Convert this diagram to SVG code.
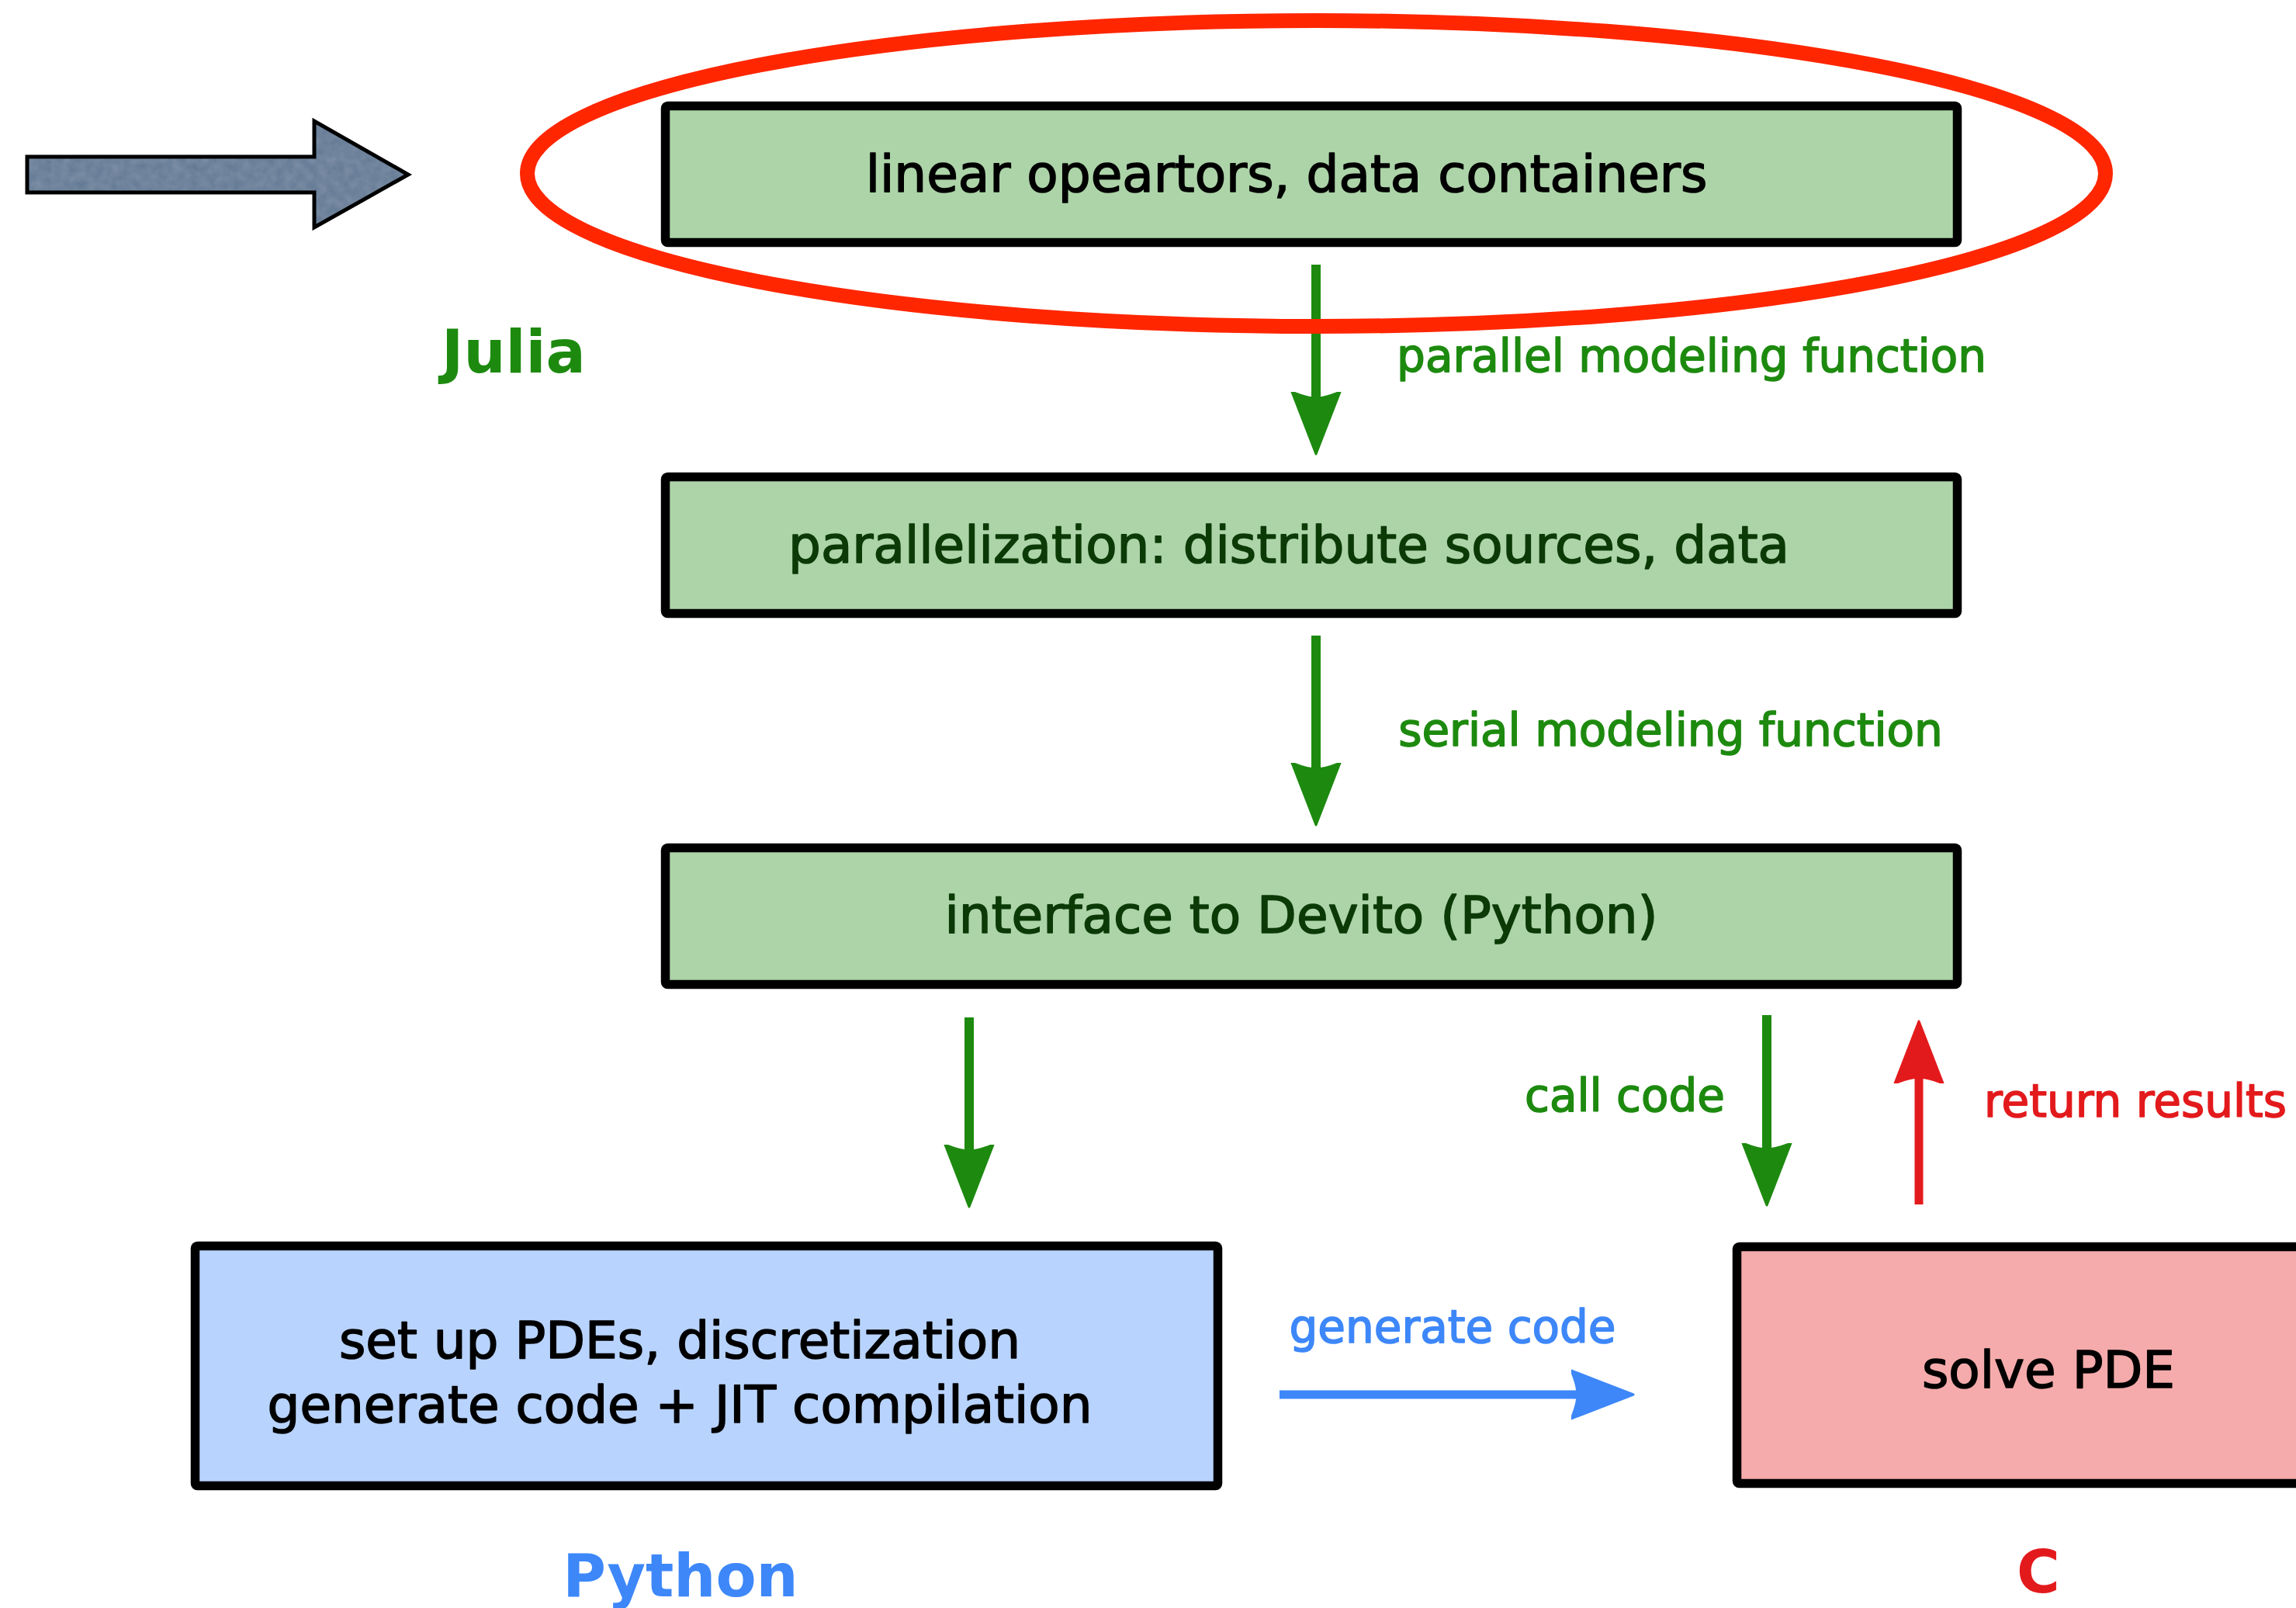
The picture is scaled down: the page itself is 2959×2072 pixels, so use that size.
<svg xmlns="http://www.w3.org/2000/svg" width="2959" height="2072" viewBox="0 0 2959 2072">
  <style>
    .box { stroke: #000; stroke-width: 11.5; stroke-linejoin: round; }
    .julia { fill: #acd4a8; }
    .py { fill: #b8d3fe; }
    .c { fill: #f5abab; }
    text { font-family: "DejaVu Sans", Verdana, sans-serif; text-anchor: middle; stroke-width: 1.6; stroke-linejoin: round; }
    .t { font-size: 66px; }
    .lbl { font-size: 58px; }
    .lang { font-size: 76px; font-weight: bold; stroke-width: 0; }
    .k { fill: #000; stroke: #000; }
    .g { fill: #1d8a0f; stroke: #1d8a0f; }
    .r { fill: #e31a1c; stroke: #e31a1c; }
    .b { fill: #3d87f9; stroke: #3d87f9; }
    .dk { fill: #0c3a07; stroke: #0c3a07; }
  </style>
  <defs>
    <marker id="head-green" markerUnits="userSpaceOnUse" orient="auto" markerWidth="90" markerHeight="80" refX="8" refY="0" viewBox="0 -40 90 80">
      <path d="M0,-31 Q8,-12 8,0 Q8,12 0,31 L80,0 Z" fill="#1d8a0f" stroke="#1d8a0f" stroke-width="3" stroke-linejoin="round"/>
    </marker>
    <marker id="head-red" markerUnits="userSpaceOnUse" orient="auto" markerWidth="90" markerHeight="80" refX="8" refY="0" viewBox="0 -40 90 80">
      <path d="M0,-31 Q8,-12 8,0 Q8,12 0,31 L80,0 Z" fill="#e31a1c" stroke="#e31a1c" stroke-width="3" stroke-linejoin="round"/>
    </marker>
    <marker id="head-blue" markerUnits="userSpaceOnUse" orient="auto" markerWidth="90" markerHeight="80" refX="8" refY="0" viewBox="0 -40 90 80">
      <path d="M0,-31 Q8,-12 8,0 Q8,12 0,31 L80,0 Z" fill="#3d87f9" stroke="#3d87f9" stroke-width="3" stroke-linejoin="round"/>
    </marker>
    <filter id="grain" x="0" y="0" width="1" height="1">
      <feTurbulence type="fractalNoise" baseFrequency="0.09" numOctaves="2" seed="3" result="n"/>
      <feColorMatrix in="n" type="matrix" values="0 0 0 0 0.42  0 0 0 0 0.52  0 0 0 0 0.62  0 0 0 0.3 0" result="tint"/>
      <feComposite in="tint" in2="SourceGraphic" operator="atop"/>
    </filter>
  </defs>

  <rect width="2959" height="2072" fill="#fff"/>

  <!-- pointer arrow at top left -->
  <g id="pointer">
    <polygon points="35,202 405,202 405,156 526,225 405,293 405,248 35,248" fill="#5f7591" filter="url(#grain)"/>
    <polygon points="35,202 405,202 405,156 526,225 405,293 405,248 35,248" fill="none" stroke="#000" stroke-width="5"/>
  </g>

  <!-- Julia layer -->
  <g id="node-operators">
    <rect class="box julia" x="857.5" y="136.5" width="1665" height="176" rx="3"/>
    <text class="t k" x="1658" y="247">linear opeartors, data containers</text>
  </g>
  <g id="node-parallel">
    <rect class="box julia" x="857.5" y="614.5" width="1665" height="176" rx="3"/>
    <text class="t dk" x="1661" y="725">parallelization: distribute sources, data</text>
  </g>
  <g id="node-interface">
    <rect class="box julia" x="857.5" y="1092.5" width="1665" height="176" rx="3"/>
    <text class="t dk" x="1677" y="1202">interface to Devito (Python)</text>
  </g>

  <!-- Python layer -->
  <g id="node-devito">
    <rect class="box py" x="251.5" y="1605.5" width="1318" height="309" rx="3"/>
    <text class="t k" x="876" y="1750">set up PDEs, discretization</text>
    <text class="t k" x="876" y="1833">generate code + JIT compilation</text>
  </g>

  <!-- C layer -->
  <g id="node-solver">
    <rect class="box c" x="2238.5" y="1606.5" width="800" height="305" rx="3"/>
    <text class="t k" x="2640" y="1788">solve PDE</text>
  </g>

  <!-- language labels -->
  <g id="lang-labels">
    <text class="lang g" x="662" y="480">Julia</text>
    <text class="lang b" x="877" y="2057">Python</text>
    <text class="lang r" x="2627" y="2052">C</text>
  </g>

  <!-- connectors -->
  <g id="connectors" fill="none">
    <line x1="1696" y1="341" x2="1696" y2="513" stroke="#1d8a0f" stroke-width="12" marker-end="url(#head-green)"/>
    <line x1="1696" y1="819" x2="1696" y2="991" stroke="#1d8a0f" stroke-width="12" marker-end="url(#head-green)"/>
    <line x1="1249" y1="1311" x2="1249" y2="1483" stroke="#1d8a0f" stroke-width="12" marker-end="url(#head-green)"/>
    <line x1="2277" y1="1308" x2="2277" y2="1481" stroke="#1d8a0f" stroke-width="12" marker-end="url(#head-green)"/>
    <line x1="2473" y1="1552" x2="2473" y2="1388" stroke="#e31a1c" stroke-width="11" marker-end="url(#head-red)"/>
    <line x1="1649" y1="1797" x2="2033" y2="1797" stroke="#3d87f9" stroke-width="11" marker-end="url(#head-blue)"/>
  </g>

  <!-- connector labels -->
  <g id="connector-labels">
    <text class="lbl g" x="2180" y="479">parallel modeling function</text>
    <text class="lbl g" x="2153" y="961">serial modeling function</text>
    <text class="lbl g" x="2094" y="1432">call code</text>
    <text class="lbl r" x="2752" y="1439">return results</text>
    <text class="lbl b" x="1872" y="1730">generate code</text>
  </g>

  <!-- highlight ring -->
  <g id="highlight">
    <ellipse cx="1696.5" cy="223.5" rx="1017" ry="197" fill="none" stroke="#ff2600" stroke-width="19"/>
  </g>
</svg>
